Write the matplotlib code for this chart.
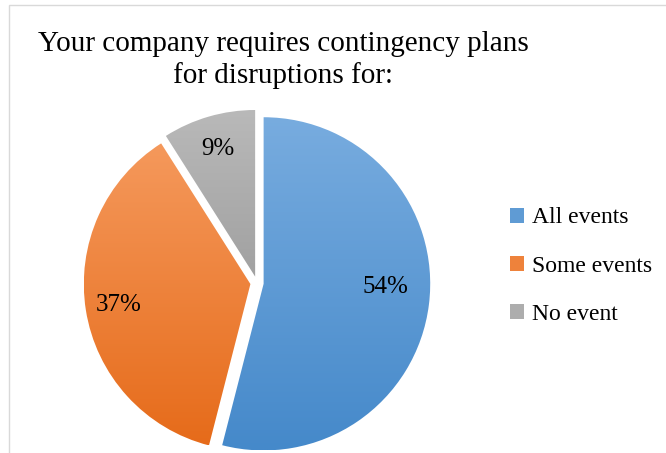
import numpy as np
import matplotlib
matplotlib.use("Agg")
import matplotlib.pyplot as plt
from matplotlib.colors import LinearSegmentedColormap, to_rgb
from matplotlib.patches import Rectangle

# survey answers
labels = ['All events', 'Some events', 'No event']
shares = [54, 37, 9]
title_lines = ['Your company requires contingency plans', 'for disruptions for:']

# gradient colours per slice (top -> bottom)
tops = ['#78acdf', '#f5995c', '#b9b9b9']
bottoms = ['#4589ca', '#e66b1a', '#a1a1a1']

plt.rcParams['font.family'] = ['Liberation Serif', 'DejaVu Serif']

W, H = 666, 453
fig = plt.figure(figsize=(W/100, H/100), dpi=100)

# pie centre / radius in pixels
cx, cy, R = 257, 283, 166.6
span = 2.2 * R
ax = fig.add_axes([(cx - span/2)/W, (H - cy - span/2)/H, span/W, span/H])
wedges, texts, autotexts = ax.pie(shares, startangle=90, counterclock=False,
	explode=[0.04]*3, autopct='%d%%', pctdistance=0.8,
	textprops=dict(fontsize=18, color='black'))

grad = np.linspace(0, 1, 256).reshape(-1, 1)
for w, c0, c1 in zip(wedges, tops, bottoms):
	ext = w.get_path().get_extents()
	cmap = LinearSegmentedColormap.from_list('g', [c0, c1])
	im = ax.imshow(grad, cmap=cmap, aspect='auto', origin='upper',
		extent=(ext.x0, ext.x1, ext.y0, ext.y1), zorder=1)
	im.set_clip_path(w)
	w.set_facecolor('none')

# big slice label sits a bit closer to the middle
th = np.deg2rad(-1.5)
c = wedges[0].center
autotexts[0].set_position((c[0] + 0.73*np.cos(th), c[1] + 0.73*np.sin(th)))

ax.set_xlim(-1.1, 1.1)
ax.set_ylim(-1.1, 1.1)
ax.axis('off')

# title, two centred lines
for txt, yb in zip(title_lines, [51, 83]):
	fig.text(283/W, 1 - yb/H, txt, ha='center', va='baseline', fontsize=21)

handles = [Rectangle((0, 0), 1, 1, facecolor=(np.array(to_rgb(a)) + to_rgb(b))/2)
	for a, b in zip(tops, bottoms)]
fig.legend(handles, labels, loc='center left', bbox_to_anchor=(489/W, 1 - 266/H),
	frameon=False, fontsize=17, handlelength=0.6, handleheight=0.6,
	handletextpad=0.3, labelspacing=1.15)

# chart frame
fig.add_artist(Rectangle((9/W, -0.1), 1.1, (H - 5)/H + 0.1, transform=fig.transFigure,
	fill=False, edgecolor='#d9d9d9', lw=1))

fig.savefig('out.png', dpi=100)
